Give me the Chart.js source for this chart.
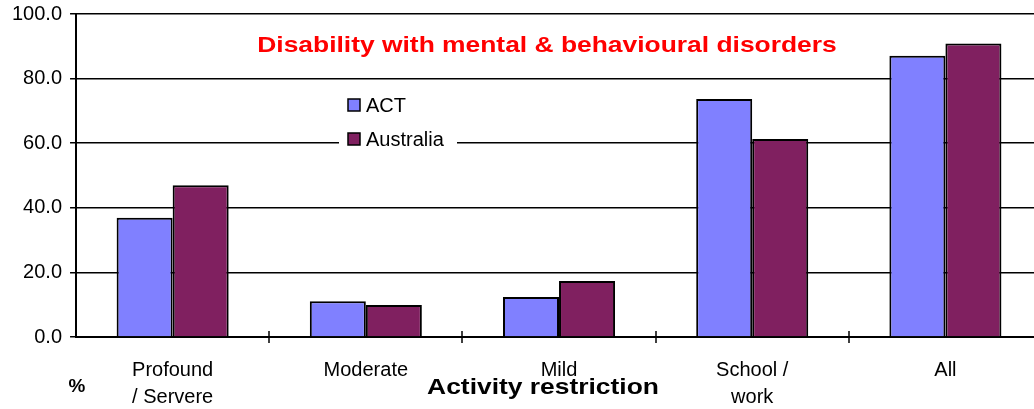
<!DOCTYPE html>
<html>
<head>
<meta charset="utf-8">
<script src="https://cdn.jsdelivr.net/npm/chart.js@4.4.0/dist/chart.umd.min.js"></script>
<style>
  html, body { margin: 0; padding: 0; background: #fff; overflow: hidden; }
</style>
</head>
<body>
<canvas id="myChart" width="1046" height="409"></canvas>
<script>
const categories = [["Profound", "/ Servere"], "Moderate", "Mild", ["School /", "work"], "All"];
const actValues = [36.9, 11.1, 12.4, 73.7, 87.1];
const australiaValues = [47.0, 9.9, 17.3, 61.3, 90.9];
const yTicks = [0, 20, 40, 60, 80, 100];

const FONT = "'Liberation Sans', Arial, sans-serif";

// text, legend and the little boundary ticks on the category axis
const extras = {
  id: "extras",
  afterDraw(chart) {
    const { ctx, chartArea } = chart;
    const x = chart.scales.x;
    ctx.save();

    // boundary ticks crossing the x axis
    ctx.strokeStyle = "#000";
    ctx.lineWidth = 1.5;
    for (let i = 1; i < categories.length; i++) {
      const px = Math.round((x.getPixelForTick(i - 1) + x.getPixelForTick(i)) / 2);
      ctx.beginPath();
      ctx.moveTo(px, chartArea.bottom - 6);
      ctx.lineTo(px, chartArea.bottom + 6);
      ctx.stroke();
    }

    // stretched text like the original
    function wideText(str, cx, cy, font, color, sx) {
      ctx.save();
      ctx.font = font;
      ctx.fillStyle = color;
      ctx.textAlign = "center";
      ctx.textBaseline = "middle";
      ctx.translate(cx, cy);
      ctx.scale(sx, 1);
      ctx.fillText(str, 0, 0);
      ctx.restore();
    }
    wideText("Disability with mental & behavioural disorders", 547, 46, "bold 22px " + FONT, "#ff0000", 1.2);
    wideText("Activity restriction", 543, 388, "bold 22px " + FONT, "#000", 1.2);
    wideText("%", 77, 387, "bold 18px " + FONT, "#000", 1.05);

    // legend
    ctx.fillStyle = "#fff";
    ctx.fillRect(339, 90, 118, 64);
    chart.data.datasets.forEach((ds, i) => {
      const y = 99 + i * 34;
      ctx.fillStyle = ds.backgroundColor;
      ctx.fillRect(348, y, 12, 12);
      ctx.strokeStyle = "#000";
      ctx.lineWidth = 1.5;
      ctx.strokeRect(348, y, 12, 12);
      ctx.fillStyle = "#000";
      ctx.font = "20px " + FONT;
      ctx.textAlign = "left";
      ctx.textBaseline = "middle";
      ctx.fillText(ds.label, 366, y + 7);
    });

    ctx.restore();
  },
};

new Chart(document.getElementById("myChart"), {
  type: "bar",
  data: {
    labels: categories,
    datasets: [
      {
        label: "ACT",
        data: actValues,
        backgroundColor: "#8080ff",
        borderColor: "#000",
        borderWidth: 2,
      },
      {
        label: "Australia",
        data: australiaValues,
        backgroundColor: "#802060",
        borderColor: "#000",
        borderWidth: 2,
      },
    ],
  },
  options: {
    responsive: false,
    animation: false,
    layout: { padding: { left: 4, right: 4, top: 14, bottom: 0 } },
    datasets: { bar: { categoryPercentage: 0.58, barPercentage: 1 } },
    scales: {
      x: {
        afterFit: (scale) => {
          scale.height = 72;
        },
        grid: { display: false, drawTicks: false },
        border: { display: true, color: "#000", width: 2 },
        ticks: {
          color: "#000",
          padding: 20,
          maxRotation: 0,
          autoSkip: false,
          font: { family: FONT, size: 20, lineHeight: 1.35 },
        },
      },
      y: {
        min: 0,
        max: 100,
        afterBuildTicks: (scale) => {
          scale.ticks = yTicks.map((v) => ({ value: v }));
        },
        afterFit: (scale) => {
          scale.paddingTop = 0;
        },
        grid: { color: "#000", lineWidth: 1.5, tickLength: 6 },
        border: { display: true, color: "#000", width: 2 },
        ticks: {
          color: "#000",
          padding: 8,
          font: { family: FONT, size: 20 },
          callback: (v) => Number(v).toFixed(1),
        },
      },
    },
    plugins: {
      legend: { display: false },
      tooltip: { enabled: false },
    },
  },
  plugins: [extras],
});
</script>
</body>
</html>
